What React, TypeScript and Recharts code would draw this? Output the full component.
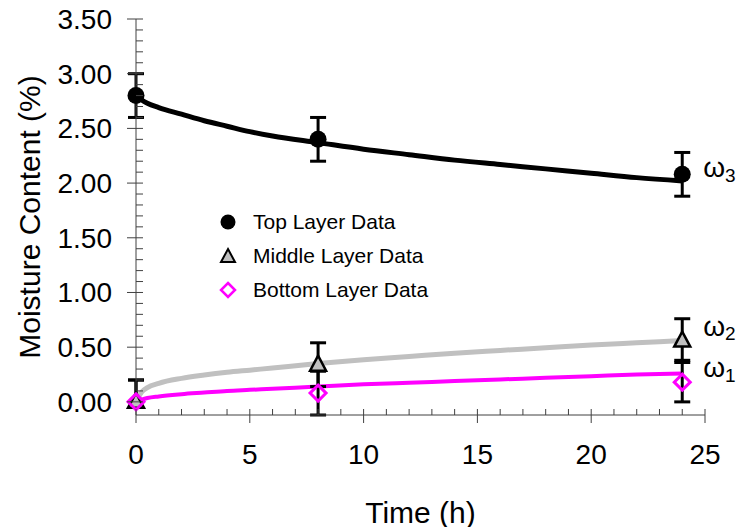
import React from "react"
import {
  ComposedChart,
  Line,
  Scatter,
  XAxis,
  YAxis,
  ErrorBar,
  Legend,
  ReferenceDot,
} from "recharts"

// fitted curves, read at these times (h)
const fitTime = [0, 0.25, 0.5, 1, 2, 3, 4, 5, 6, 8, 10, 12, 14, 16, 18, 20, 22, 24]
const topFit = [2.8, 2.76, 2.73, 2.69, 2.63, 2.57, 2.52, 2.47, 2.43, 2.37, 2.31, 2.26, 2.21, 2.17, 2.13, 2.09, 2.05, 2.02]
const middleFit = [0, 0.09, 0.13, 0.17, 0.215, 0.245, 0.27, 0.29, 0.31, 0.35, 0.385, 0.415, 0.445, 0.47, 0.495, 0.52, 0.54, 0.56]
const bottomFit = [0, 0.02, 0.035, 0.05, 0.07, 0.085, 0.1, 0.11, 0.12, 0.14, 0.16, 0.175, 0.19, 0.205, 0.22, 0.235, 0.25, 0.26]

// measured layers
const sampleTime = [0, 8, 24]
const topData = [2.8, 2.4, 2.08]
const topErr = [0.2, 0.2, 0.2]
const middleData = [0, 0.34, 0.56]
const middleErr = [[0, 0.2], [0.2, 0.2], [0.2, 0.2]]
const bottomData = [0, 0.08, 0.18]
const bottomErr = [[0, 0.2], [0.2, 0.2], [0.18, 0.2]]

// every 1 h, labelled every 5 h
const xTicks = Array.from({ length: 26 }, (_, i) => i)
// every 0.1 %, labelled every 0.5 %
const yTicks = Array.from({ length: 36 }, (_, i) => i / 10)

const omegaIndex = ["3", "2", "1"]
const omegaY = [2.14, 0.69, 0.31]

const FONT = "'Liberation Sans', Arial, sans-serif"
const AXIS = "#404040"
const GRAY = "#c0c0c0"
const MAGENTA = "#ff00ff"

const toRows = (vals: number[]) => fitTime.map((t, i) => ({ t, v: vals[i] }))
const toPoints = (vals: number[], errs: any[]) =>
  sampleTime.map((t, i) => ({ t, v: vals[i], err: errs[i] }))

// tick props arrive with tickSize/tickMargin 0, so x/y sit on the axis line
const XTick = ({ x, y, payload }: any) => {
  const major = Math.round(payload.value) % 5 === 0
  return (
    <g>
      <line x1={x} x2={x} y1={y - 6} y2={major ? y + 8 : y} stroke={AXIS} />
      {major && (
        <text x={x} y={y + 29} dy="0.71em" textAnchor="middle" fontFamily={FONT} fontSize={28} fill="#000">
          {payload.value}
        </text>
      )}
    </g>
  )
}

const YTick = ({ x, y, payload }: any) => {
  const major = Math.round(payload.value * 10) % 5 === 0
  return (
    <g>
      <line x1={major ? x - 9 : x} x2={x + 7} y1={y} y2={y} stroke={AXIS} />
      {major && (
        <text x={x - 24} y={y} dy="0.355em" textAnchor="end" fontFamily={FONT} fontSize={28} fill="#000">
          {payload.value.toFixed(2)}
        </text>
      )}
    </g>
  )
}

const CircleMark = ({ cx, cy }: any) => <circle cx={cx} cy={cy} r={8.5} fill="#000" />
const TriangleMark = ({ cx, cy }: any) => (
  <polygon
    points={`${cx},${cy - 9} ${cx + 8},${cy + 6} ${cx - 8},${cy + 6}`}
    fill={GRAY}
    stroke="#000"
    strokeWidth={2.5}
  />
)
const DiamondMark = ({ cx, cy }: any) => (
  <polygon
    points={`${cx},${cy - 8} ${cx + 8},${cy} ${cx},${cy + 8} ${cx - 8},${cy}`}
    fill="none"
    stroke={MAGENTA}
    strokeWidth={3}
  />
)

const legendRows = [
  { name: "Top Layer Data", icon: <circle cx={10} cy={10} r={7.5} fill="#000" /> },
  {
    name: "Middle Layer Data",
    icon: <polygon points="10,3 17,16 3,16" fill={GRAY} stroke="#000" strokeWidth={2} />,
  },
  {
    name: "Bottom Layer Data",
    icon: <polygon points="10,3 17,10 10,17 3,10" fill="none" stroke={MAGENTA} strokeWidth={2.5} />,
  },
]

const LegendBox = () => (
  <div style={{ fontFamily: FONT, fontSize: 21, color: "#000" }}>
    {legendRows.map((r) => (
      <div key={r.name} style={{ display: "flex", alignItems: "center", height: 34 }}>
        <svg width={20} height={20} style={{ marginRight: 15 }}>
          {r.icon}
        </svg>
        <span>{r.name}</span>
      </div>
    ))}
  </div>
)

export default function App() {
  return (
    <div style={{ position: "absolute", left: 0, top: 0, background: "#fff" }}>
      <ComposedChart
        width={738}
        height={527}
        margin={{ top: 19, right: 33, bottom: 52, left: 0 }}
      >
        <XAxis
          type="number"
          dataKey="t"
          domain={[0, 25]}
          ticks={xTicks}
          interval={0}
          height={60}
          tickSize={0}
          tickMargin={0}
          tickLine={false}
          axisLine={{ stroke: AXIS }}
          tick={XTick}
          label={({ viewBox }: any) => (
            <text
              x={viewBox.x + viewBox.width / 2}
              y={viewBox.y + 97}
              textAnchor="middle"
              dominantBaseline="central"
              fontFamily={FONT}
              fontSize={30}
              fill="#000"
            >
              Time (h)
            </text>
          )}
        />
        <YAxis
          type="number"
          domain={[0, 3.5]}
          ticks={yTicks}
          interval={0}
          width={136}
          tickSize={0}
          tickMargin={0}
          tickLine={false}
          axisLine={{ stroke: AXIS }}
          tick={YTick}
          label={({ viewBox }: any) => (
            <text
              x={29}
              y={viewBox.y + viewBox.height / 2}
              textAnchor="middle"
              dominantBaseline="central"
              transform={`rotate(-90 29 ${viewBox.y + viewBox.height / 2})`}
              fontFamily={FONT}
              fontSize={30}
              fill="#000"
            >
              Moisture Content (%)
            </text>
          )}
        />

        <Line data={toRows(topFit)} dataKey="v" type="monotone" stroke="#000" strokeWidth={5} dot={false} activeDot={false} isAnimationActive={false} />
        <Line data={toRows(middleFit)} dataKey="v" type="monotone" stroke={GRAY} strokeWidth={5} dot={false} activeDot={false} isAnimationActive={false} />
        <Line data={toRows(bottomFit)} dataKey="v" type="monotone" stroke={MAGENTA} strokeWidth={4} dot={false} activeDot={false} isAnimationActive={false} />

        <Scatter data={toPoints(topData, topErr)} dataKey="v" shape={CircleMark} isAnimationActive={false}>
          <ErrorBar dataKey="err" direction="y" width={8} stroke="#000" strokeWidth={3} isAnimationActive={false} />
        </Scatter>
        <Scatter data={toPoints(middleData, middleErr)} dataKey="v" shape={TriangleMark} isAnimationActive={false}>
          <ErrorBar dataKey="err" direction="y" width={8} stroke="#000" strokeWidth={3} isAnimationActive={false} />
        </Scatter>
        <Scatter data={toPoints(bottomData, bottomErr)} dataKey="v" shape={DiamondMark} isAnimationActive={false}>
          <ErrorBar dataKey="err" direction="y" width={8} stroke="#000" strokeWidth={3} isAnimationActive={false} />
        </Scatter>

        {omegaIndex.map((k, i) => (
          <ReferenceDot
            key={k}
            x={24}
            y={omegaY[i]}
            r={0}
            fill="none"
            stroke="none"
            label={({ viewBox }: any) => (
              <text
                x={viewBox.x + 21}
                y={viewBox.y}
                dominantBaseline="central"
                fontFamily={FONT}
                fontSize={28}
                fill="#000"
              >
                ω
                <tspan fontSize={19} dy={7}>
                  {k}
                </tspan>
              </text>
            )}
          />
        ))}

        {/* middle alignment keeps the legend from eating plot space */}
        <Legend
          layout="horizontal"
          verticalAlign="middle"
          align="center"
          content={() => <LegendBox />}
          wrapperStyle={{ position: "absolute", left: 218, top: 205, width: "auto" }}
        />
      </ComposedChart>
    </div>
  )
}
